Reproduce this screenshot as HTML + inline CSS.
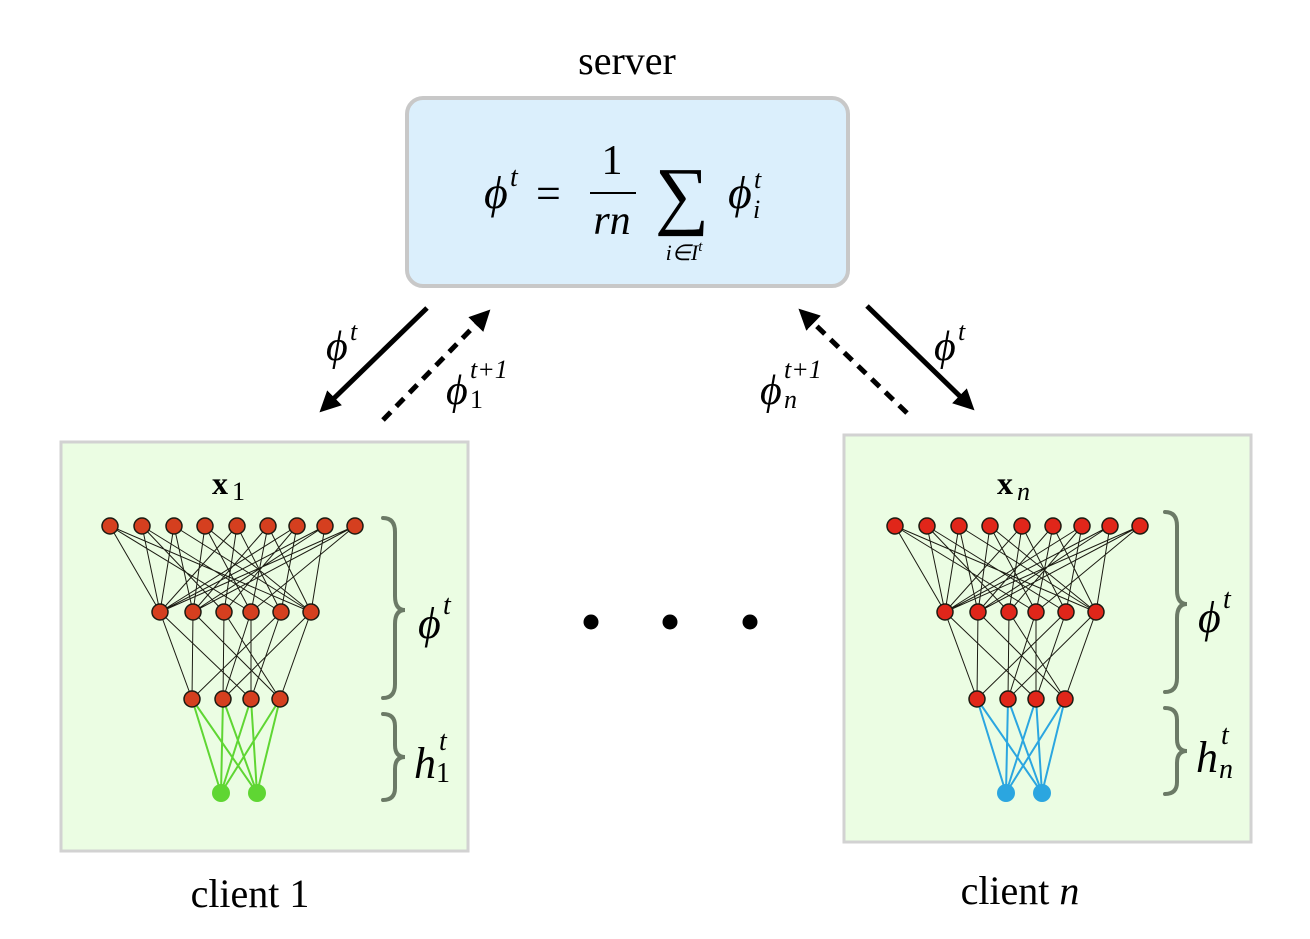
<!DOCTYPE html>
<html><head><meta charset="utf-8"><style>
html,body{margin:0;padding:0;background:#fff;}
svg{display:block;}
text{font-family:"Liberation Serif",serif;fill:#000;}
.it{font-style:italic;}
</style></head><body>
<svg width="1310" height="939" viewBox="0 0 1310 939" xmlns="http://www.w3.org/2000/svg">
<defs>
<marker id="ah" viewBox="0 0 10 10" refX="7" refY="5" markerWidth="4.2" markerHeight="4.2" orient="auto"><path d="M0 0L10 5L0 10z" fill="#000"/></marker>
<g id="net">
<path fill="none" stroke="#1b1b12" stroke-width="1" d="
M110 526L160 612M110 526L251 612M110 526L311 612
M142 526L160 612M142 526L224 612M142 526L281 612
M174 526L160 612M174 526L193 612M174 526L311 612
M205 526L193 612M205 526L251 612M205 526L311 612
M237 526L160 612M237 526L224 612M237 526L281 612
M268 526L193 612M268 526L251 612M268 526L311 612
M297 526L160 612M297 526L224 612M297 526L281 612
M325 526L160 612M325 526L193 612M325 526L311 612
M355 526L160 612M355 526L193 612M355 526L251 612
M160 612L192 699M160 612L251 699
M193 612L192 699M193 612L280 699
M224 612L223 699M224 612L280 699
M251 612L223 699M251 612L251 699
M281 612L192 699M281 612L251 699
M311 612L223 699M311 612L280 699"/>
<g stroke="#1b1b12" stroke-width="1.5">
<circle cx="110" cy="526" r="8"/><circle cx="142" cy="526" r="8"/><circle cx="174" cy="526" r="8"/><circle cx="205" cy="526" r="8"/><circle cx="237" cy="526" r="8"/><circle cx="268" cy="526" r="8"/><circle cx="297" cy="526" r="8"/><circle cx="325" cy="526" r="8"/><circle cx="355" cy="526" r="8"/>
<circle cx="160" cy="612" r="8"/><circle cx="193" cy="612" r="8"/><circle cx="224" cy="612" r="8"/><circle cx="251" cy="612" r="8"/><circle cx="281" cy="612" r="8"/><circle cx="311" cy="612" r="8"/>
<circle cx="192" cy="699" r="8"/><circle cx="223" cy="699" r="8"/><circle cx="251" cy="699" r="8"/><circle cx="280" cy="699" r="8"/>
</g>
</g>
<path id="outl" d="M192 699L221 793M192 699L257 793M223 699L221 793M223 699L257 793M251 699L221 793M251 699L257 793M280 699L221 793M280 699L257 793"/>
<path id="br" fill="none" stroke="#6b7a66" stroke-width="4" stroke-linecap="round" d="M383 518Q395 518 395 532L395 596Q395 610 405 610Q395 610 395 624L395 684Q395 698 383 698 M383 714Q395 714 395 726L395 745Q395 757 405 757Q395 757 395 769L395 788Q395 800 383 800"/>
</defs>

<!-- server -->
<text x="627" y="74" font-size="40" text-anchor="middle">server</text>
<rect x="407" y="98" width="441" height="188" rx="16" fill="#dbeffc" stroke="#c8c8c8" stroke-width="4"/>
<text x="484" y="208" font-size="46" class="it">ϕ</text>
<text x="510" y="186" font-size="28" class="it">t</text>
<text x="536" y="208" font-size="44">=</text>
<text x="612" y="174" font-size="42" text-anchor="middle">1</text>
<line x1="590" y1="193" x2="636" y2="193" stroke="#000" stroke-width="2"/>
<text x="612" y="234" font-size="42" text-anchor="middle" class="it">rn</text>
<text x="682" y="220" font-size="76" text-anchor="middle">∑</text>
<text x="684" y="260" font-size="22" text-anchor="middle" class="it">i∈I<tspan font-size="15" dy="-9">t</tspan></text>
<text x="728" y="208" font-size="46" class="it">ϕ</text>
<text x="754" y="188" font-size="26" class="it">t</text>
<text x="753" y="218" font-size="26" class="it">i</text>

<!-- arrows -->
<line x1="427" y1="308" x2="324" y2="408" stroke="#000" stroke-width="5" marker-end="url(#ah)"/>
<line x1="383" y1="420" x2="486" y2="314" stroke="#000" stroke-width="5" stroke-dasharray="11 8" marker-end="url(#ah)"/>
<line x1="907" y1="413" x2="803" y2="313" stroke="#000" stroke-width="5" stroke-dasharray="11 8" marker-end="url(#ah)"/>
<line x1="867" y1="306" x2="970" y2="406" stroke="#000" stroke-width="5" marker-end="url(#ah)"/>
<text x="326" y="360" font-size="42" class="it">ϕ</text><text x="350" y="340" font-size="26" class="it">t</text>
<text x="446" y="404" font-size="42" class="it">ϕ</text><text x="470" y="378" font-size="26" class="it">t+1</text><text x="470" y="408" font-size="26">1</text>
<text x="760" y="404" font-size="42" class="it">ϕ</text><text x="784" y="378" font-size="26" class="it">t+1</text><text x="784" y="408" font-size="26" class="it">n</text>
<text x="934" y="360" font-size="42" class="it">ϕ</text><text x="958" y="340" font-size="26" class="it">t</text>

<!-- dots -->
<circle cx="591" cy="622" r="7.5" fill="#000"/><circle cx="670" cy="622" r="7.5" fill="#000"/><circle cx="750" cy="622" r="7.5" fill="#000"/>

<!-- left client -->
<rect x="61" y="442" width="407" height="409" fill="#ebfde3" stroke="#d2d2d2" stroke-width="3"/>
<text x="212" y="494" font-size="32" font-weight="bold" fill="#1b2a14">x</text><text x="232" y="500" font-size="26" fill="#1b2a14">1</text>
<use href="#outl" stroke="#5fd633" stroke-width="2" fill="none"/>
<g fill="#d53f1f"><use href="#net"/></g>
<circle cx="221" cy="793" r="9" fill="#5fd633"/><circle cx="257" cy="793" r="9" fill="#5fd633"/>
<use href="#br"/>
<text x="418" y="638" font-size="44" class="it">ϕ</text><text x="443" y="614" font-size="28" class="it">t</text>
<text x="414" y="778" font-size="44" class="it">h</text><text x="439" y="750" font-size="28" class="it">t</text><text x="436" y="782" font-size="28">1</text>
<text x="250" y="907" font-size="40" text-anchor="middle">client 1</text>

<!-- right client -->
<rect x="844" y="435" width="407" height="407" fill="#ebfde3" stroke="#d2d2d2" stroke-width="3"/>
<text x="997" y="494" font-size="32" font-weight="bold" fill="#1b2a14">x</text><text x="1017" y="500" font-size="26" class="it" fill="#1b2a14">n</text>
<g transform="translate(785,0)">
<use href="#outl" stroke="#2ba6e0" stroke-width="2" fill="none"/>
<g fill="#e0261a"><use href="#net"/></g>
<circle cx="221" cy="793" r="9" fill="#2ba6e0"/><circle cx="257" cy="793" r="9" fill="#2ba6e0"/>
</g>
<g transform="translate(782,-6)"><use href="#br"/></g>
<text x="1198" y="632" font-size="44" class="it">ϕ</text><text x="1223" y="608" font-size="28" class="it">t</text>
<text x="1196" y="772" font-size="44" class="it">h</text><text x="1221" y="744" font-size="28" class="it">t</text><text x="1219" y="778" font-size="28" class="it">n</text>
<text x="1020" y="904" font-size="40" text-anchor="middle">client <tspan class="it">n</tspan></text>
</svg>
</body></html>
